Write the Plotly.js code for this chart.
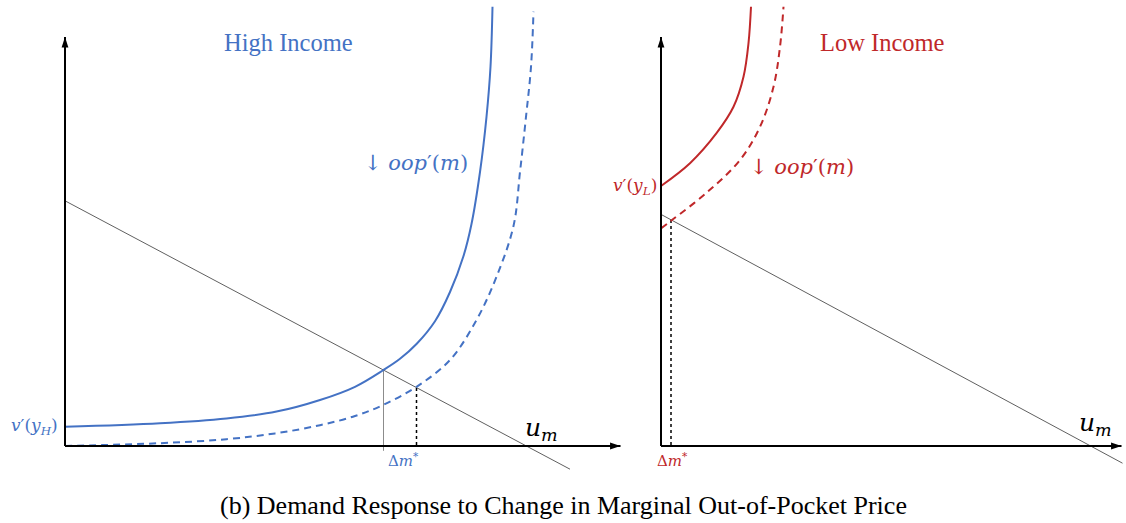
<!DOCTYPE html>
<html>
<head>
<meta charset="utf-8">
<script src="https://cdn.plot.ly/plotly-3.0.1.min.js"></script>
<style>html,body{margin:0;padding:0;background:#fff;}#chart{width:1126px;height:523px;}</style>
</head>
<body>
<div id="chart"></div>
<script>
// ---- Data (diagram units: origin at each panel's axis corner) ----
// High income panel
const hiSolidX  = [0, 1.9, 3.23, 4.23, 5.1, 5.8, 6.37, 6.7, 7.03, 7.4, 7.7, 7.97, 8.13, 8.3, 8.43, 8.51, 8.55];
const hiSolidY  = [0.48, 0.57, 0.69, 0.86, 1.15, 1.48, 1.9, 2.18, 2.55, 3.12, 3.85, 4.75, 5.55, 6.85, 8.23, 9.48, 10.98];
const hiDashX   = [0, 1.9, 3.23, 4.23, 5.1, 5.8, 6.37, 7.03, 7.7, 8.23, 8.63, 8.97, 9.1, 9.22, 9.32, 9.37];
const hiDashY   = [0, 0.07, 0.17, 0.32, 0.52, 0.75, 1.03, 1.48, 2.15, 3.15, 4.23, 5.5, 6.85, 8.23, 9.48, 10.86];
const hiLineX   = [0, 10.1];
const hiLineY   = [6.13, -0.58];
const hiEqX     = [6.37, 6.37];   // original equilibrium
const hiEqY     = [1.9, -0.12];
const hiNewX    = [7.03, 7.03];   // new equilibrium
const hiNewY    = [1.45, 0];
// Low income panel
const loSolidX  = [0, 0.58, 1.11, 1.45, 1.65, 1.75, 1.8];
const loSolidY  = [6.5, 7.07, 7.82, 8.48, 9.23, 10.07, 10.98];
const loDashX   = [0, 0.2, 0.91, 1.58, 1.98, 2.25, 2.38, 2.45];
const loDashY   = [5.44, 5.63, 6.33, 7.15, 7.98, 8.98, 9.98, 10.98];
const loLineX   = [0, 9.23];
const loLineY   = [5.79, -0.43];
const loNewX    = [0.2, 0.2];
const loNewY    = [5.65, 0];
// Axis extents (arrow tips)
const hiAxisX = 11.11, hiAxisY = 10.225;
const loAxisX = 9.21,  loAxisY = 10.225;

const BLUE = '#4472C4';
const RED  = '#C0282A';
const GRAY = '#606060';
const MATH = 'DejaVu Serif';
const SERIF = 'Liberation Serif';

const SPL = {shape:'spline', smoothing:1.0};
function axisTraces(xa, ya, ex, ey) {
  return [
    {x:[0, ex], y:[0, 0], mode:'lines', line:{color:'#000', width:2}, xaxis:xa, yaxis:ya},
    {x:[0, 0], y:[0, ey], mode:'lines', line:{color:'#000', width:2}, xaxis:xa, yaxis:ya},
    {x:[ex], y:[0], mode:'markers', marker:{symbol:'arrow', angle:90, size:11, color:'#000', standoff:0, line:{width:0}}, xaxis:xa, yaxis:ya},
    {x:[0], y:[ey], mode:'markers', marker:{symbol:'arrow', angle:0, size:11, color:'#000', standoff:0, line:{width:0}}, xaxis:xa, yaxis:ya}
  ];
}
const traces = [
  {x: hiLineX, y: hiLineY, mode:'lines', line:{color:GRAY, width:1}, xaxis:'x', yaxis:'y'},
  {x: hiEqX, y: hiEqY, mode:'lines', line:{color:'#8c8c8c', width:1}, xaxis:'x', yaxis:'y'},
  {x: hiNewX, y: hiNewY, mode:'lines', line:{color:'#000', width:1.5, dash:'dot'}, xaxis:'x', yaxis:'y'},
  {x: hiSolidX, y: hiSolidY, mode:'lines', line:Object.assign({color:BLUE, width:2}, SPL), xaxis:'x', yaxis:'y'},
  {x: hiDashX, y: hiDashY, mode:'lines', line:Object.assign({color:BLUE, width:2, dash:'7px,5px'}, SPL), xaxis:'x', yaxis:'y'},

  {x: loLineX, y: loLineY, mode:'lines', line:{color:GRAY, width:1}, xaxis:'x2', yaxis:'y2'},
  {x: loNewX, y: loNewY, mode:'lines', line:{color:'#000', width:1.5, dash:'dot'}, xaxis:'x2', yaxis:'y2'},
  {x: loSolidX, y: loSolidY, mode:'lines', line:Object.assign({color:RED, width:2}, SPL), xaxis:'x2', yaxis:'y2'},
  {x: loDashX, y: loDashY, mode:'lines', line:Object.assign({color:RED, width:2, dash:'7px,5px'}, SPL), xaxis:'x2', yaxis:'y2'}
].concat(axisTraces('x','y', hiAxisX, hiAxisY), axisTraces('x2','y2', loAxisX, loAxisY));

function label(xr, yr, x, y, text, color, size, family, xanchor) {
  return {xref:xr, yref:yr, x:x, y:y, text:text, showarrow:false, xanchor:xanchor||'center', yanchor:'middle',
          font:{color:color, size:size, family:family}};
}

const annotations = [
  label('x','y', 4.46, 10.1, 'High Income', BLUE, 24.5, SERIF),
  label('x','y', 8.1, 7.08, '↓ <i>oop</i>′(<i>m</i>)', BLUE, 21, MATH, 'right'),
  label('x','y', -0.1, 0.48, '<i>v</i>′(<i>y</i><sub><i>H</i></sub>)', BLUE, 17, MATH, 'right'),
  label('x','y', 6.76, -0.36, 'Δ<i>m</i><sup>*</sup>', BLUE, 15, MATH),
  label('x','y', 9.52, 0.42, '<i>u</i><sub><i>m</i></sub>', '#000', 25, MATH),

  label('x2','y2', 4.42, 10.1, 'Low Income', RED, 24.5, SERIF),
  label('x2','y2', 1.74, 6.98, '↓ <i>oop</i>′(<i>m</i>)', RED, 21, MATH, 'left'),
  label('x2','y2', -0.04, 6.5, '<i>v</i>′(<i>y</i><sub><i>L</i></sub>)', RED, 17, MATH, 'right'),
  label('x2','y2', 0.22, -0.36, 'Δ<i>m</i><sup>*</sup>', RED, 15, MATH),
  label('x2','y2', 8.68, 0.55, '<i>u</i><sub><i>m</i></sub>', '#000', 25, MATH),

  {xref:'paper', yref:'paper', x:0.5, y:0.034, text:'(b) Demand Response to Change in Marginal Out-of-Pocket Price',
   showarrow:false, xanchor:'center', yanchor:'middle', font:{color:'#000', size:26, family:SERIF}}
];

const hidden = {visible:false, showgrid:false, zeroline:false, fixedrange:true};
const layout = {
  width:1126, height:523,
  margin:{l:0, r:0, t:0, b:0, pad:0},
  paper_bgcolor:'#fff', plot_bgcolor:'rgba(0,0,0,0)',
  showlegend:false,
  xaxis: Object.assign({domain:[0, 0.56], range:[-1.3, 11.3112]}, hidden),
  yaxis: Object.assign({domain:[0, 1], range:[-1.925, 11.15]}, hidden),
  xaxis2: Object.assign({domain:[0.56, 1], range:[-0.6088, 9.3], anchor:'y2'}, hidden),
  yaxis2: Object.assign({domain:[0, 1], range:[-1.925, 11.15], anchor:'x2'}, hidden),
  annotations: annotations
};

Plotly.newPlot('chart', traces, layout, {staticPlot:true, displayModeBar:false});
</script>
</body>
</html>
